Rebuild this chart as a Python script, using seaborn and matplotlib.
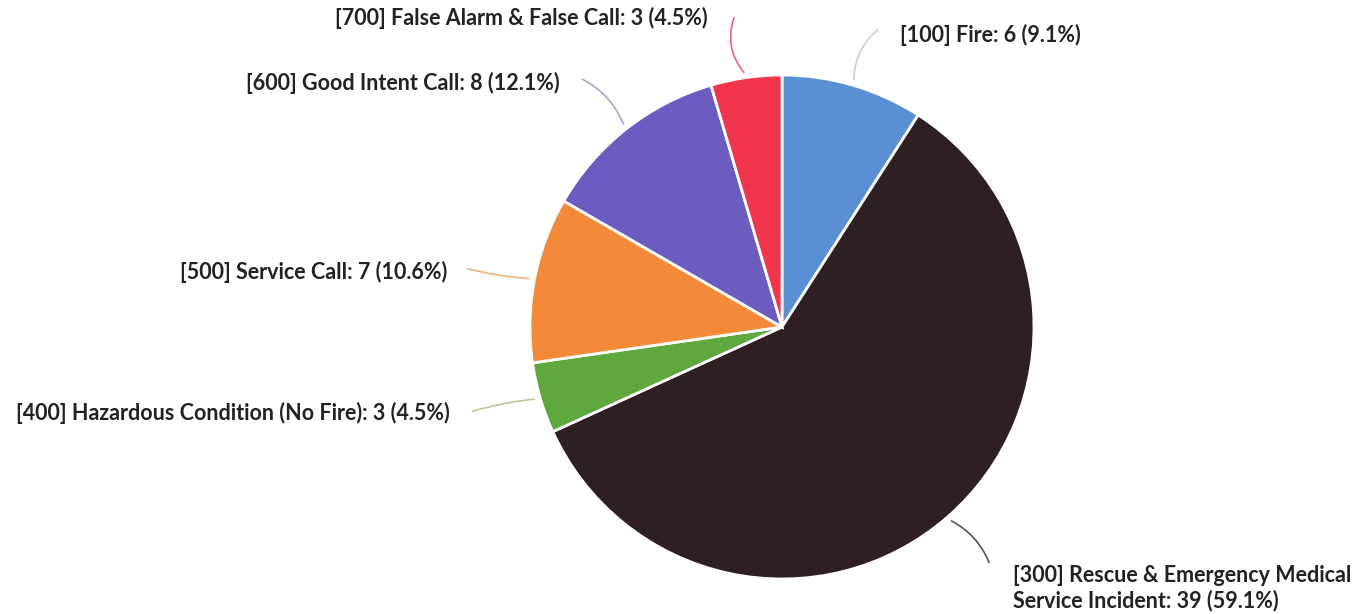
import matplotlib
matplotlib.use("Agg")
import matplotlib.pyplot as plt
import seaborn as sns
import numpy as np

categories = ["[100] Fire", "[300] Rescue & Emergency Medical\nService Incident",
              "[400] Hazardous Condition (No Fire)", "[500] Service Call",
              "[600] Good Intent Call", "[700] False Alarm & False Call"]
counts = [6, 39, 3, 7, 8, 3]
colors = ["#5b8fd4", "#2f1f23", "#5ea83e", "#f28a3a", "#6c5cbf", "#f2354f"]
line_colors = ["#c8cdd8", "#555555", "#b9c99a", "#f0b27a", "#a9a3d6", "#e8607a"]

sns.set_theme(style="white")
plt.rcParams['font.family'] = ['Lato', 'DejaVu Sans']

W, H = 1362, 614
fig = plt.figure(figsize=(W / 100, H / 100), dpi=100)
ax = fig.add_axes([0, 0, 1, 1])
ax.set_xlim(0, W)
ax.set_ylim(0, H)
ax.set_aspect('equal')
ax.axis('off')

cx, cy, R = 782, H - 327, 252
wedges, _ = ax.pie(counts, colors=colors, startangle=90, counterclock=False,
                   center=(cx, cy), radius=R,
                   wedgeprops=dict(edgecolor="white", linewidth=2))
ax.set_xlim(0, W)
ax.set_ylim(0, H)

total = sum(counts)
# label anchor positions (pixels, y-down) and alignment
label_pos = [(900, 35, 'left', 0.25), (1013, 588, 'left', 0.2),
             (450, 413, 'right', -0.05), (447, 272, 'right', 0.05),
             (560, 83, 'right', -0.2), (708, 18, 'right', 0.3)]
line_end = [(880, 28), (990, 565), (470, 412), (465, 268), (580, 78), (735, 15)]

for i, w in enumerate(wedges):
    ang = np.deg2rad((w.theta1 + w.theta2) / 2)
    sx = cx + (R + 3) * np.cos(ang)
    sy = cy + (R + 3) * np.sin(ang)
    ex, ey = line_end[i]
    ax.annotate("", xy=(sx, sy), xytext=(ex, H - ey),
                arrowprops=dict(arrowstyle='-', color=line_colors[i], lw=1.2,
                                connectionstyle=f"arc3,rad={label_pos[i][3]}"))
    pct = counts[i] / total * 100
    txt = f"{categories[i]}: {counts[i]} ({pct:.1f}%)"
    lx, ly, ha, _ = label_pos[i]
    ax.text(lx, H - ly, txt, ha=ha, va='center', fontsize=15.5, fontweight='bold',
            color="#222222", linespacing=1.2)

fig.savefig("out.png", dpi=100, facecolor="white")
